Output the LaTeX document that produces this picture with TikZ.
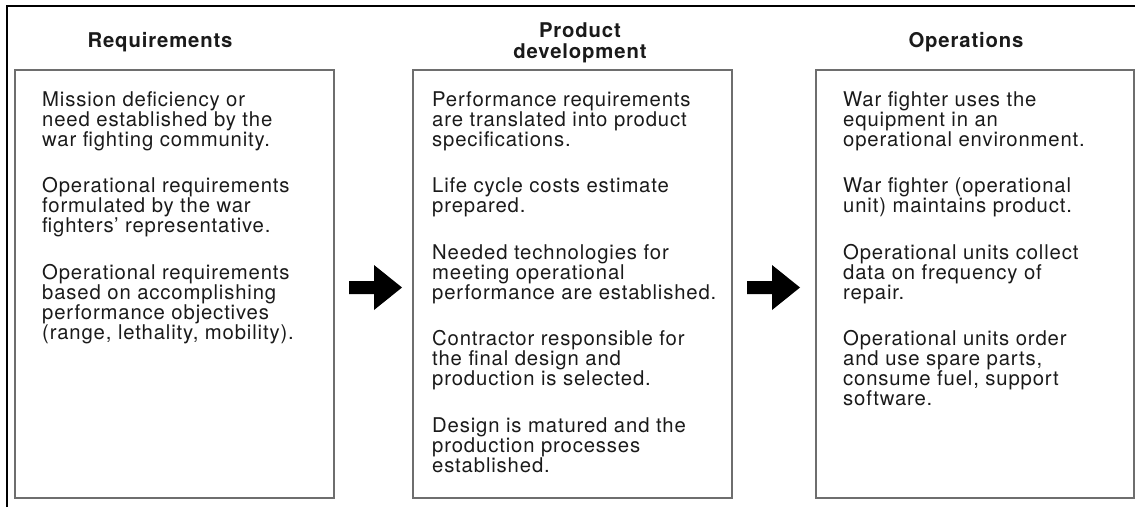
\documentclass[tikz,border=0pt]{standalone}
\usepackage{fontspec}
\setmainfont{TeX Gyre Heros}
\newfontfamily\spacedfont[LetterSpace=4.2]{TeX Gyre Heros}
\definecolor{boxgray}{HTML}{6E6E6E}
\definecolor{inkcol}{HTML}{1A1A1A}
\newcommand\pgap{\par\vspace{26.5pt}}
\newcommand\bodytext[1]{\parbox[t]{300pt}{\raggedright\spacedfont\fontsize{20.3}{20}\selectfont\lineskiplimit=-100pt\lineskip=0pt #1}}
\newcommand\headtext[1]{\spacedfont\fontsize{20.3}{21}\selectfont\bfseries\begin{tabular}[t]{@{}c@{}}#1\end{tabular}}
\begin{document}
\begin{tikzpicture}[x=1pt,y=-1pt,
  box/.style={draw=boxgray, line width=2pt, rectangle, outer sep=0pt, inner sep=0pt, anchor=north west, minimum height=428pt},
  body/.style={anchor=base west, inner sep=0pt, text=inkcol},
  head/.style={anchor=base, inner sep=0pt, text=inkcol},
  frameline/.style={line width=2.3pt, black, line join=miter},
  bigarrow/.style={fill=black}]
\useasboundingbox (0,0) rectangle (1140,507);
% outer frame
\coordinate (fbl) at (7,507);
\coordinate (ftl) at (7,6);
\coordinate (ftr) at (1135,6);
\draw[frameline] (fbl) -- (ftl) -- (ftr);
% boxes
\node[box, minimum width=319pt] (req) at (14.5,70) {};
\node[box, minimum width=319pt] (dev) at (413,70) {};
\node[box, minimum width=318pt] (ops) at (816,70) {};
% headings
\node[head] (hreq) at (160,47) {\headtext{Requirements}};
\node[head] (hdev) at (580,37) {\headtext{Product\\development}};
\node[head] (hops) at (966,47) {\headtext{Operations}};
% body texts
\node[body] (treq) at (42,106) {\bodytext{%
Mission deficiency or\\ need established by the\\ war fighting community.\pgap
Operational requirements\\ formulated by the war\\ fighters’ representative.\pgap
Operational requirements\\ based on accomplishing\\ performance objectives\\ (range, lethality, mobility).}};
\node[body] (tdev) at (432,106) {\bodytext{%
Performance requirements\\ are translated into product\\ specifications.\pgap
Life cycle costs estimate\\ prepared.\pgap
Needed technologies for\\ meeting operational\\ performance are established.\pgap
Contractor responsible for\\ the final design and\\ production is selected.\pgap
Design is matured and the\\ production processes\\ established.}};
\node[body] (tops) at (843,106) {\bodytext{%
War fighter uses the\\ equipment in an\\ operational environment.\pgap
War fighter (operational\\ unit) maintains product.\pgap
Operational units collect\\ data on frequency of\\ repair.\pgap
Operational units order\\ and use spare parts,\\ consume fuel, support\\ software.}};
% block arrows
\fill[bigarrow] (349,281) -- (374,281) -- (374,265) -- (402,287.5) -- (374,310) -- (374,294) -- (349,294) -- cycle;
\fill[bigarrow] (747,281) -- (772,281) -- (772,265) -- (800,287.5) -- (772,310) -- (772,294) -- (747,294) -- cycle;
\end{tikzpicture}
\end{document}
